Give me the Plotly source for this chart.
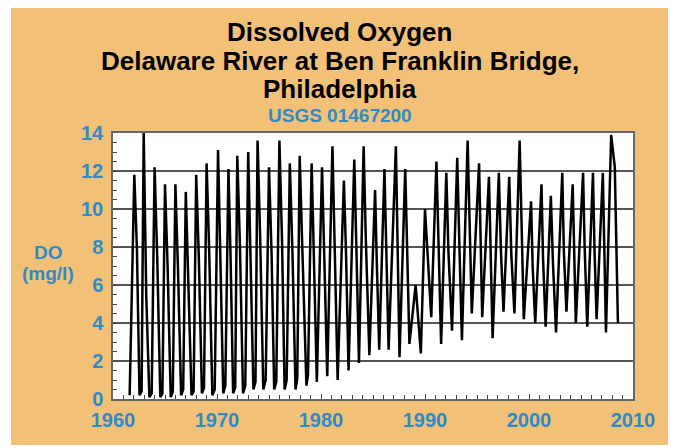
import plotly.graph_objects as go

# Seasonal turning points (decimal year, mg/l)
peak_year = [1962.05, 1962.95, 1964.0, 1965.0, 1966.0, 1967.0, 1968.0, 1969.0, 1970.1, 1971.1,
             1971.95, 1973.0, 1973.9, 1975.0, 1976.0, 1977.0, 1977.95, 1979.1, 1980.1, 1981.1,
             1982.2, 1983.2, 1984.1, 1985.2, 1986.1, 1987.2, 1988.1, 1989.1, 1990.0, 1991.1,
             1992.05, 1993.1, 1994.1, 1995.2, 1996.15, 1997.1, 1998.1, 1999.1, 2000.2, 2001.2,
             2002.1, 2003.2, 2004.2, 2005.2, 2006.15, 2007.1, 2007.9, 2008.25]
peak_do = [11.8, 14.0, 12.2, 11.3, 11.3, 10.9, 11.8, 12.4, 13.1, 12.1,
           12.8, 13.0, 13.6, 12.2, 13.6, 12.4, 12.8, 12.4, 12.2, 13.3,
           11.5, 12.6, 13.3, 11.0, 12.1, 13.3, 12.1, 6.0, 10.0, 12.5,
           11.9, 12.7, 13.6, 12.4, 11.7, 11.9, 11.7, 13.6, 10.4, 11.3,
           10.7, 11.9, 11.3, 11.9, 11.9, 11.9, 13.9, 12.2]

# late-winter values (lower end of the dark winter bands)
winter_year = [1962.3, 1963.2, 1964.25, 1965.25, 1966.25, 1967.25, 1968.25, 1969.25, 1970.3, 1971.3,
               1972.2, 1973.2, 1974.15, 1975.25, 1976.25, 1977.25, 1978.2, 1979.3, 1980.3, 1981.3,
               1982.4, 1983.4, 1984.3, 1985.35, 1986.3, 1987.35, 1988.3, 1990.25, 1991.3,
               1992.25, 1993.3, 1994.3, 1995.35, 1996.3, 1997.3, 1998.3, 1999.3, 2000.35, 2001.35,
               2002.3, 2003.35, 2004.35, 2005.35, 2006.3, 2007.25]
winter_do = [7.9, 5.4, 7.5, 7.0, 6.8, 6.0, 7.5, 7.8, 8.0, 7.6,
             8.2, 8.0, 8.5, 7.6, 8.4, 7.8, 8.0, 7.8, 8.0, 8.2,
             7.8, 8.0, 8.6, 7.5, 7.6, 8.4, 7.8, 7.4, 8.0,
             7.8, 8.2, 8.6, 8.0, 7.6, 7.8, 7.6, 8.4, 7.0, 7.4,
             7.2, 7.8, 7.6, 8.0, 7.8, 7.6]

low_year = [1961.6, 1962.55, 1963.5, 1964.55, 1965.55, 1966.55, 1967.55, 1968.55, 1969.55, 1970.6,
            1971.55, 1972.5, 1973.5, 1974.45, 1975.5, 1976.5, 1977.55, 1978.6, 1979.6, 1980.6,
            1981.6, 1982.65, 1983.65, 1984.65, 1985.6, 1986.5, 1987.55, 1988.5, 1989.6, 1990.6,
            1991.55, 1992.6, 1993.55, 1994.5, 1995.5, 1996.5, 1997.55, 1998.6, 1999.5, 2000.6,
            2001.6, 2002.6, 2003.6, 2004.5, 2005.6, 2006.5, 2007.4, 2008.55]
low_do = [0.2, 0.2, 0.1, 0.1, 0.1, 0.2, 0.2, 0.3, 0.2, 0.3,
          0.3, 0.3, 0.5, 0.5, 0.5, 0.5, 0.5, 0.7, 0.9, 1.2,
          1.0, 1.5, 1.9, 2.3, 2.6, 2.6, 2.2, 2.9, 2.4, 4.3,
          2.9, 3.6, 3.1, 4.5, 4.3, 3.2, 4.6, 4.5, 4.2, 4.0,
          3.8, 3.5, 4.6, 4.0, 3.8, 4.2, 3.5, 4.0]

# end of the summer low-oxygen plateau (1960s-70s)
plateau_year = [1962.75, 1963.72, 1964.75, 1965.75, 1966.75, 1967.75, 1968.75, 1969.78, 1970.8,
                1971.75, 1972.72, 1973.7, 1974.68, 1975.7, 1976.7, 1977.72, 1978.75]
plateau_do = [0.4, 0.3, 0.3, 0.4, 0.5, 0.4, 0.6, 0.5, 0.7,
              0.6, 0.7, 0.9, 1.0, 0.9, 1.0, 1.1, 1.3]

x_ticks = [1960, 1970, 1980, 1990, 2000, 2010]
y_ticks = [0, 2, 4, 6, 8, 10, 12, 14]

pts = sorted(list(zip(peak_year, peak_do)) + list(zip(winter_year, winter_do)) +
             list(zip(low_year, low_do)) + list(zip(plateau_year, plateau_do)))
xs = [p[0] for p in pts]
ys = [p[1] for p in pts]

ORANGE = "#F2C077"
BLUE = "#2E8BC8"
FONT = "Liberation Sans, Arial, Helvetica, sans-serif"

fig = go.Figure()
fig.add_trace(go.Scatter(x=xs, y=ys, mode="lines",
                         line=dict(color="black", width=2.5), showlegend=False,
                         hoverinfo="skip"))

fig.update_layout(
    width=668, height=440,
    margin=dict(l=105, r=43, t=125, b=49),
    paper_bgcolor=ORANGE, plot_bgcolor="white",
    font=dict(family=FONT),
    showlegend=False,
)
fig.update_xaxes(range=[1960, 2010], tickvals=x_ticks, ticktext=[str(v) for v in x_ticks],
                 showgrid=False, zeroline=False, showline=True, mirror=True,
                 linecolor="#666", linewidth=1.5, ticks="inside", ticklen=5, tickcolor="#444",
                 ticklabelstandoff=2,
                 minor=dict(dtick=1, ticks="inside", ticklen=4, tickcolor="#444", showgrid=False),
                 tickfont=dict(family=FONT, size=20, color=BLUE, weight="bold"))
fig.update_yaxes(range=[0, 14], tickvals=y_ticks, ticktext=[str(v) for v in y_ticks],
                 showgrid=True, gridcolor="#555", gridwidth=1.5, zeroline=False,
                 showline=True, mirror=True, linecolor="#666", linewidth=1.5,
                 ticks="inside", ticklen=5, tickcolor="#444", ticklabelstandoff=4,
                 minor=dict(dtick=0.5, ticks="inside", ticklen=4, tickcolor="#444", showgrid=False),
                 tickfont=dict(family=FONT, size=20, color=BLUE, weight="bold"))

# white borders around the orange panel
for x0, x1, y0, y1 in [(-0.25, -0.1962, -0.3, 1.6), (-0.25, 1.2, -0.3, -0.173)]:
    fig.add_shape(type="rect", xref="paper", yref="paper", x0=x0, x1=x1, y0=y0, y1=y1,
                  fillcolor="white", line=dict(width=0), layer="below")

titles = [("Dissolved Oxygen", 1.38, "black", 26),
          ("Delaware River at Ben Franklin Bridge,", 1.27, "black", 26),
          ("Philadelphia", 1.166, "black", 26),
          ("USGS 01467200", 1.066, BLUE, 19)]
for txt, yy, col, sz in titles:
    fig.add_annotation(text=txt, x=0.4365, y=yy, xref="paper", yref="paper",
                       xanchor="center", yanchor="middle", showarrow=False,
                       font=dict(family=FONT, size=sz, color=col, weight="bold"))

fig.add_annotation(text="DO", x=-0.125, y=0.55, xref="paper", yref="paper",
                   xanchor="center", yanchor="middle", showarrow=False,
                   font=dict(family=FONT, size=19, color=BLUE, weight="bold"))
fig.add_annotation(text="(mg/l)", x=-0.125, y=0.47, xref="paper", yref="paper",
                   xanchor="center", yanchor="middle", showarrow=False,
                   font=dict(family=FONT, size=19, color=BLUE, weight="bold"))

fig.write_html("out.html")
